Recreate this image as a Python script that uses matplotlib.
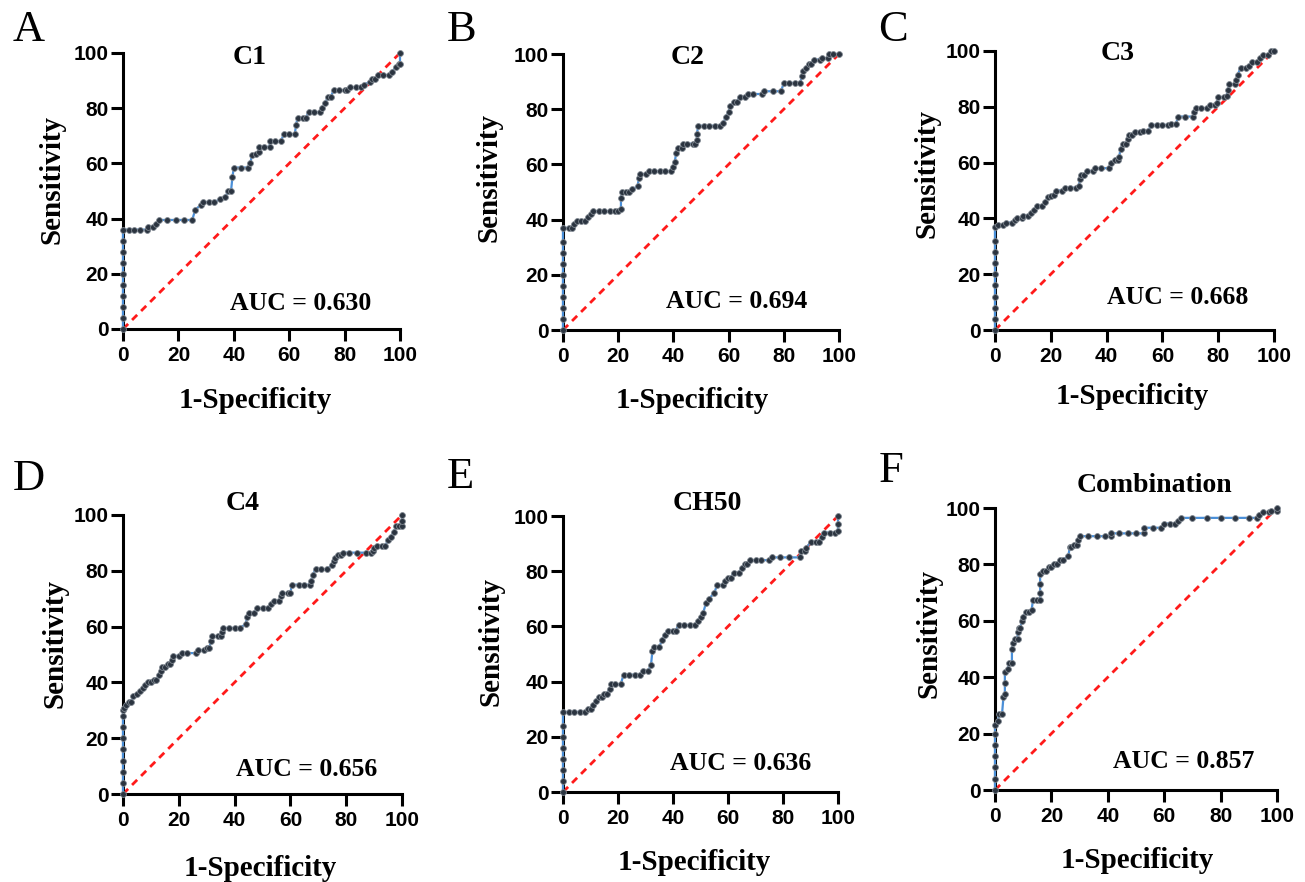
import matplotlib
matplotlib.use('Agg')
import matplotlib.pyplot as plt

W, H = 1305, 882

# ROC points (1-Specificity %, Sensitivity %)
C1_PTS = [(0, 0), (0, 4), (0, 8), (0, 12), (0, 16), (0, 20), (0, 24), (0, 28), (0, 32), (0, 36),
          (2, 36), (4, 36), (6, 36), (8.5, 36), (9, 37), (11, 37), (12, 38), (13, 39.5), (16, 39.5),
          (19, 39.5), (22, 39.5), (25, 39.5), (26, 43), (28, 45), (29, 46), (31, 46), (33, 46),
          (35, 47), (37, 48), (38, 50), (39, 50), (39.5, 55), (40, 58.5), (42.5, 58.5), (45, 58.5),
          (46, 60), (46.5, 63), (48, 63.5), (49, 64), (49, 66), (51, 66), (53, 66), (53, 68),
          (55, 68), (57, 68), (58, 70.5), (60, 70.5), (62, 70.5), (62.5, 74), (63, 76.5), (65, 76.5),
          (66, 76.5), (67, 78.5), (69, 78.5), (71, 78.5), (72, 80), (73, 82), (74, 84), (75, 84),
          (76, 86.5), (78, 86.5), (80, 86.5), (81, 86.5), (82, 87.5), (84, 87.5), (86, 87.5),
          (87, 88.5), (89, 89.5), (90, 90.5), (91, 90.5), (92, 92), (94, 92), (96, 92), (97, 93),
          (98.5, 95), (99.5, 96), (100, 96), (100, 100)]

C2_PTS = [(0, 0), (0, 4), (0, 8), (0, 12), (0, 16), (0, 20), (0, 24), (0, 28), (0, 32), (0, 37),
          (2, 37), (3.3, 37), (4, 38.5), (5, 39.5), (6.5, 39.5), (8, 39.5), (9, 41), (10, 42),
          (11, 43), (13, 43), (15, 43), (17, 43), (19, 43), (20, 43), (21, 44), (21, 48), (21.5, 50),
          (23, 50), (24, 50), (25, 51), (27, 52), (27.5, 55), (28, 56.5), (30, 56.5), (31, 57.5),
          (33, 57.5), (35, 57.5), (37, 57.5), (39, 57.5), (40, 59), (40.5, 61), (41, 64), (41.5, 66),
          (43, 66), (43.5, 67.5), (45, 67.5), (47, 67.5), (48, 67.5), (48.5, 69), (48.5, 71), (49, 74),
          (51, 74), (53, 74), (55, 74), (57, 74), (58, 75), (59, 77), (60, 79), (60.5, 81), (62, 82.5),
          (63, 82.5), (64, 84.5), (66, 84.5), (67, 85.5), (69, 85.5), (72, 85.5), (73, 86.5),
          (76, 86.5), (79, 86.5), (80, 89.5), (82, 89.5), (84, 89.5), (86, 89.5), (86.5, 92), (87, 94),
          (88, 95), (89, 96.5), (90, 96.5), (91, 98), (93, 98), (94, 98.5), (96, 98.5), (96.5, 100),
          (98, 100), (100, 100)]

C3_PTS = [(0, 0), (0, 4), (0, 8), (0, 12), (0, 16), (0, 20), (0, 24), (0, 28), (0, 32), (0, 37),
          (1, 37.5), (3, 37.5), (4, 38.5), (6, 38.5), (7, 39.5), (8, 40), (9.5, 40), (10, 41), (12, 41),
          (13, 42), (14, 43), (15, 44.5), (17, 44.5), (18, 46), (19, 47.5), (20, 48), (21, 48.5),
          (22, 50), (24, 50), (25, 51), (27, 51), (29, 51), (30, 51.5), (30.5, 54), (31, 55.5),
          (32, 55.5), (33, 57), (35, 57), (36, 58), (38, 58), (41, 58), (41.5, 60), (43, 61), (44, 61),
          (44.5, 62), (45, 65), (46, 66.5), (47, 66.5), (47.5, 68.5), (48, 70), (49, 70), (50, 71),
          (52, 71), (53, 71.5), (55, 71.5), (56, 73.5), (58, 73.5), (60, 73.5), (62, 73.5), (63, 74),
          (65, 74), (65.5, 76.5), (68, 76.5), (71, 76.5), (71.5, 78), (72, 79.5), (74, 79.5),
          (76, 79.5), (77, 80.5), (79, 80.5), (79.5, 81.5), (80, 83.5), (82, 83.5), (83, 84), (83.5, 86),
          (84, 88), (86, 88), (86.5, 89.5), (87, 91.5), (88, 94), (90, 94), (91, 94.5), (92, 96),
          (94, 96), (95, 97.5), (96, 98.5), (98, 98.5), (99, 100), (100, 100)]

C4_PTS = [(0, 0), (0, 4), (0, 8), (0, 12), (0, 16), (0, 20), (0, 24), (0, 28), (0, 30),
          (0.5, 31), (1, 32), (2, 33), (3, 33), (3.5, 35), (5, 36), (6, 37), (7, 38), (8, 39), (9, 40),
          (10, 40), (11, 41), (12, 41), (13, 42.5), (13.5, 44), (14, 45.5), (15, 45.5), (16, 46.5),
          (17, 46.5), (17.5, 48), (18, 49.5), (20, 49.5), (21, 50.5), (23, 50.5), (26, 50.5),
          (27, 51.5), (29, 51.5), (30, 52.5), (31, 52.5), (31.5, 55), (32, 56.5), (34, 56.5),
          (35, 56.5), (35.5, 58), (36, 59.5), (38, 59.5), (40, 59.5), (42, 59.5), (44, 61), (44.5, 63.5),
          (45, 65), (47, 65), (48, 66.5), (50, 66.5), (52, 66.5), (53, 68), (54, 69), (56, 69),
          (56.5, 71), (57, 72), (59, 72), (60, 72), (60.5, 75), (63, 75), (65, 75), (67, 75),
          (67.5, 76.5), (68, 78.5), (69, 80.5), (71, 80.5), (73, 80.5), (75, 82), (75.5, 83.5),
          (76, 84.5), (77, 85.5), (78, 85.5), (79, 86.5), (81, 86.5), (84, 86.5), (87, 86.5),
          (89, 86.5), (89.5, 87), (90, 88), (91, 89), (93, 89), (94, 89), (95, 91), (96, 92), (97, 94),
          (98, 96), (99, 96), (100, 96), (100, 98), (100, 100)]

CH50_PTS = [(0, 0), (0, 4), (0, 8), (0, 12), (0, 16), (0, 20), (0, 24), (0, 29),
            (2, 29), (4, 29), (6, 29), (8, 29), (9, 30), (10, 30), (11, 31.5), (12, 33), (13, 34.5),
            (14, 34.5), (15, 35.5), (16, 35.5), (17, 37.5), (17.5, 39), (19, 39), (21, 39), (22, 42.5),
            (24, 42.5), (26, 42.5), (28, 42.5), (29, 44), (31, 44), (32, 46), (32.5, 51), (33, 52.5),
            (35, 52.5), (36, 55), (37, 57), (38, 58.5), (40, 58.5), (41, 58.5), (42, 60.5), (44, 60.5),
            (46, 60.5), (48, 60.5), (49, 62), (50, 63.5), (51, 65), (52, 68.5), (53, 70), (55, 72),
            (56, 75), (58, 75), (59, 76.5), (60, 77.5), (61, 77.5), (62, 79.5), (64, 79.5), (65, 81),
            (66, 82.5), (67, 82.5), (68, 84), (70, 84), (72, 84), (75, 84), (76, 85), (79, 85),
            (82, 85), (86, 85), (86.5, 87.5), (88, 87.5), (88.5, 88.5), (90, 90.5), (92, 90.5),
            (93, 90.5), (94, 92.5), (95, 94), (97, 94), (99, 94), (100, 94.5), (100, 97), (100, 100)]

COMB_PTS = [(0, 0), (0, 4), (0, 8), (0, 12), (0, 16), (0, 20), (0, 23),
            (1, 24.5), (1.5, 27), (2.5, 27), (3, 33), (3.5, 34), (3.5, 38), (3.5, 42), (4.5, 43),
            (5, 45), (6, 45), (6, 50), (6.5, 52), (7, 53.5), (8, 53.5), (8, 56), (8.5, 57.5), (9, 57.5),
            (9.5, 60), (10, 61.5), (11, 63), (12, 63), (13, 64), (13.5, 67.5), (15, 67.5), (16, 67.5),
            (16, 70), (16, 73), (16, 76.5), (17, 77.5), (18, 77.5), (19, 79), (20, 79), (21, 80),
            (22, 80), (23, 81.5), (24, 81.5), (26, 83), (26.5, 86), (27, 86), (28, 87), (29, 87),
            (29.5, 88.5), (30, 90), (33, 90), (36, 90), (39, 90), (41, 90), (41, 91), (44, 91), (47, 91),
            (50, 91), (53, 91), (53, 93), (56, 93), (59, 93), (60, 94.5), (62, 94.5), (64, 94.5),
            (65, 95.5), (66, 96.5), (70, 96.5), (75, 96.5), (80, 96.5), (85, 96.5), (90, 96.5),
            (93, 96.5), (93.5, 97.5), (95, 98.5), (97, 98.5), (98, 99), (100, 99), (100, 100)]

LETTERS = ['A', 'B', 'C', 'D', 'E', 'F']
TITLES = ['C1', 'C2', 'C3', 'C4', 'CH50', 'Combination']
AUCS = ['0.630', '0.694', '0.668', '0.656', '0.636', '0.857']
CURVES = [C1_PTS, C2_PTS, C3_PTS, C4_PTS, CH50_PTS, COMB_PTS]
TICKS = [0, 20, 40, 60, 80, 100]

# layout in pixels: axes box (left, right, top, bottom) and text anchors
BOXES = [(123, 400, 53, 329), (563, 839, 54, 330), (995, 1274, 51, 330),
         (123, 402, 515, 794), (563, 838, 516, 792), (995, 1277, 508, 790)]
LETTER_XY = [(29, 30), (462, 30), (893, 30), (29, 479), (460, 477), (891, 471)]
TITLE_XY = [(250, 57), (688, 57), (1118, 54), (243, 504), (707, 504), (1154, 485)]
AUC_XY = [(301, 303), (737, 301), (1178, 298), (307, 769), (741, 764), (1184, 761)]
YLAB_XY = [(52, 180), (489, 178), (927, 174), (55, 644), (491, 641), (929, 633)]
XLAB_XY = [(255, 401), (692, 400), (1132, 397), (260, 868), (694, 862), (1137, 861)]

SERIF = 'Liberation Serif'
SANS = 'Liberation Sans'
LINE_BLUE = '#4a8fd8'
DOT = '#2b3440'
RED = '#ff1a1a'

fig = plt.figure(figsize=(W / 100, H / 100), dpi=100)


def fx(x):
    return x / W


def fy(y):
    return 1 - y / H


for i in range(6):
    l, r, t, b = BOXES[i]
    ax = fig.add_axes([fx(l), fy(b), (r - l) / W, (b - t) / H])
    xs = [p[0] for p in CURVES[i]]
    ys = [p[1] for p in CURVES[i]]
    ax.plot([0, 100], [0, 100], color=RED, lw=2, ls=(0, (2.6, 2.0)), zorder=2)
    ax.plot(xs, ys, color=LINE_BLUE, lw=1.6, zorder=3, clip_on=False)
    ax.plot(xs, ys, ls='none', marker='o', ms=4.2, mfc=DOT, mec='#7f8790', mew=0.6,
            zorder=4, clip_on=False)

    ax.set_xlim(0, 100)
    ax.set_ylim(0, 100)
    ax.set_xticks(TICKS)
    ax.set_yticks(TICKS)
    for s in ['top', 'right']:
        ax.spines[s].set_visible(False)
    for s in ['left', 'bottom']:
        ax.spines[s].set_linewidth(2.2)
    ax.tick_params(direction='out', length=8.5, width=2.2, pad=4)
    ax.tick_params(axis='y', pad=2)
    for lab in ax.get_xticklabels() + ax.get_yticklabels():
        lab.set_fontfamily(SANS)
        lab.set_fontweight('bold')
        lab.set_fontsize(15)

    fig.text(fx(LETTER_XY[i][0]), fy(LETTER_XY[i][1]), LETTERS[i], family=SERIF,
             fontsize=32, ha='center', va='center')
    fig.text(fx(TITLE_XY[i][0]), fy(TITLE_XY[i][1]), TITLES[i], family=SERIF,
             fontweight='bold', fontsize=20, ha='center', va='center')
    fig.text(fx(AUC_XY[i][0]), fy(AUC_XY[i][1]), f'AUC = {AUCS[i]}', family=SERIF,
             fontweight='bold', fontsize=18.5, ha='center', va='center')
    fig.text(fx(YLAB_XY[i][0]), fy(YLAB_XY[i][1]), 'Sensitivity', family=SERIF,
             fontweight='bold', fontsize=21, ha='center', va='center', rotation=90)
    fig.text(fx(XLAB_XY[i][0]), fy(XLAB_XY[i][1]), '1-Specificity', family=SERIF,
             fontweight='bold', fontsize=21, ha='center', va='center')

fig.savefig('out.png', dpi=100)
